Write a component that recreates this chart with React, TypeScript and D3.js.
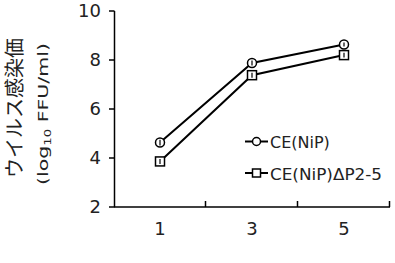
import React from "react";
import * as d3 from "d3";

const categories = ["1", "3", "5"];
const seriesNames = ["CE(NiP)", "CE(NiP)ΔP2-5"];
const circleValues = [4.63, 7.88, 8.63];
const circleErrors = [0.12, 0.1, 0.08];
const squareValues = [3.86, 7.38, 8.2];
const squareErrors = [0.1, 0.1, 0.1];
const yTicks = [2, 4, 6, 8, 10];

const LATIN = "'DejaVu Sans', 'Liberation Sans', Arial, sans-serif";
const CJK = "'Noto Sans CJK JP', sans-serif";

export default function App() {
  const W = 395, H = 263;
  const x = d3.scaleBand<string>().domain(categories).range([114, 390]);
  const y = d3.scaleLinear().domain([2, 10]).range([207, 11]);
  const cx = (c: string) => (x(c) as number) + x.bandwidth() / 2;
  const line = d3
    .line<number>()
    .x((_, i) => cx(categories[i]))
    .y((v) => y(v));
  const bounds = categories.map((c) => (x(c) as number) + x.bandwidth());

  const errBar = (vals: number[], errs: number[]) =>
    vals.map((v, i) => (
      <line
        key={"e" + i}
        x1={cx(categories[i])}
        x2={cx(categories[i])}
        y1={y(v + errs[i])}
        y2={y(v - errs[i])}
        stroke="#000"
        strokeWidth={1.2}
      />
    ));

  return (
    <svg
      width={W}
      height={H}
      style={{ position: "absolute", left: 0, top: 0, background: "#fff" }}
    >
      {/* Y title */}
      <text
        transform={`translate(22,108) rotate(-90)`}
        textAnchor="middle"
        fontFamily={CJK}
        fontSize={20}
        fill="#222"
      >
        ウイルス感染価
      </text>
      <text
        transform={`translate(48,114) rotate(-90)`}
        textAnchor="middle"
        fontFamily={LATIN}
        fontSize={14}
        fill="#222"
        textLength={142}
        lengthAdjust="spacingAndGlyphs"
      >
        (log<tspan fontSize={9} dy={3}>10</tspan>
        <tspan dy={-3}> FFU/ml)</tspan>
      </text>

      {/* Y axis */}
      <line x1={114.5} x2={114.5} y1={y(10)} y2={y(2)} stroke="#000" strokeWidth={1.5} />
      {yTicks.map((t) => (
        <g key={t}>
          <line x1={109} x2={114.5} y1={y(t)} y2={y(t)} stroke="#000" strokeWidth={1.5} />
          <text
            x={101}
            y={y(t)}
            dy="0.36em"
            textAnchor="end"
            fontFamily={LATIN}
            fontSize={18}
            fill="#222"
          >
            {t}
          </text>
        </g>
      ))}

      {/* X axis */}
      <line x1={114} x2={390} y1={207} y2={207} stroke="#000" strokeWidth={1.5} />
      {bounds.map((b, i) => (
        <line key={i} x1={b - 0.5} x2={b - 0.5} y1={201} y2={207} stroke="#000" strokeWidth={1.5} />
      ))}
      {categories.map((c) => (
        <text
          key={c}
          x={cx(c)}
          y={235}
          textAnchor="middle"
          fontFamily={LATIN}
          fontSize={18}
          fill="#222"
        >
          {c}
        </text>
      ))}

      {/* Lines */}
      <path d={line(circleValues) || ""} fill="none" stroke="#000" strokeWidth={2} />
      <path d={line(squareValues) || ""} fill="none" stroke="#000" strokeWidth={2} />

      {/* Markers */}
      {circleValues.map((v, i) => (
        <circle key={"c" + i} cx={cx(categories[i])} cy={y(v)} r={4.5} fill="#fff" stroke="#000" strokeWidth={1.5} />
      ))}
      {errBar(circleValues, circleErrors)}
      {squareValues.map((v, i) => (
        <rect
          key={"s" + i}
          x={cx(categories[i]) - 4.5}
          y={y(v) - 4.5}
          width={9}
          height={9}
          fill="#fff"
          stroke="#000"
          strokeWidth={1.5}
        />
      ))}
      {errBar(squareValues, squareErrors)}

      {/* Legend */}
      <line x1={245} x2={268} y1={141.5} y2={141.5} stroke="#000" strokeWidth={2} />
      <circle cx={256.5} cy={141.5} r={4} fill="#fff" stroke="#000" strokeWidth={1.5} />
      <text x={270} y={148} fontFamily={LATIN} fontSize={16} fill="#222">
        {seriesNames[0]}
      </text>
      <line x1={245} x2={268} y1={173} y2={173} stroke="#000" strokeWidth={2} />
      <rect x={252.5} y={169} width={8} height={8} fill="#fff" stroke="#000" strokeWidth={1.5} />
      <text x={270} y={180} fontFamily={LATIN} fontSize={16} fill="#222" textLength={112} lengthAdjust="spacingAndGlyphs">
        {seriesNames[1]}
      </text>
    </svg>
  );
}
